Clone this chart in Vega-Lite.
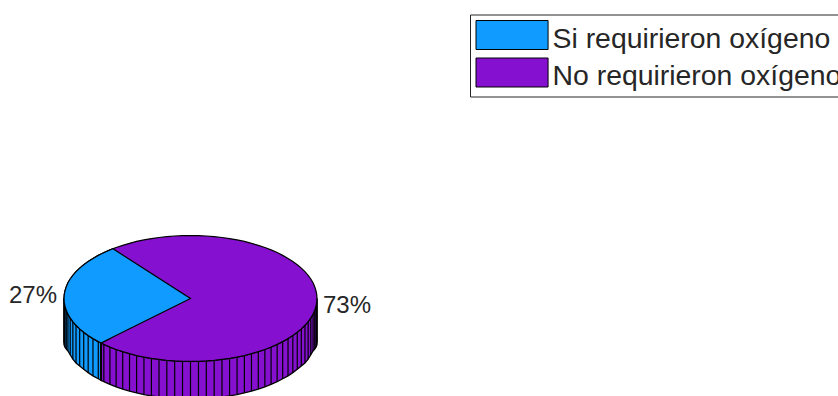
{
  "$schema": "https://vega.github.io/schema/vega-lite/v6.json",
  "width": 838,
  "height": 396,
  "padding": 0,
  "autosize": {"type": "none"},
  "background": "white",
  "config": {"view": {"stroke": null}},
  "datasets": {
    "rim": [
      {"x": -100, "front": 0, "back": 0, "bottom": -35, "group": "Si requirieron oxígeno"},
      {"x": -99.8, "front": -3.1, "back": 3.1, "bottom": -37, "group": "Si requirieron oxígeno"},
      {"x": -99.2, "front": -6.2, "back": 6.2, "bottom": -38.5, "group": "Si requirieron oxígeno"},
      {"x": -98.2, "front": -9.3, "back": 9.3, "bottom": -40, "group": "Si requirieron oxígeno"},
      {"x": -96.9, "front": -12.4, "back": 12.4, "bottom": -41.5, "group": "Si requirieron oxígeno"},
      {"x": -95.1, "front": -15.4, "back": 15.4, "bottom": -44.5, "group": "Si requirieron oxígeno"},
      {"x": -93, "front": -18.3, "back": 18.3, "bottom": -48, "group": "Si requirieron oxígeno"},
      {"x": -90.5, "front": -21.2, "back": 21.2, "bottom": -51, "group": "Si requirieron oxígeno"},
      {"x": -87.6, "front": -24, "back": 24, "bottom": -53.3, "group": "Si requirieron oxígeno"},
      {"x": -84.4, "front": -26.7, "back": 26.7, "bottom": -56, "group": "Si requirieron oxígeno"},
      {"x": -80.9, "front": -29.3, "back": 29.3, "bottom": -58.6, "group": "Si requirieron oxígeno"},
      {"x": -77.1, "front": -31.7, "back": 31.7, "bottom": -61.2, "group": "Si requirieron oxígeno"},
      {"x": -72.9, "front": -34.1, "back": 34.1, "bottom": -63.5, "group": "Si requirieron oxígeno"},
      {"x": -70.7, "front": -35.2, "back": 35.2, "bottom": -64.7, "group": "Si requirieron oxígeno"},
      {"x": -70.7, "front": -35.2, "back": 35.2, "bottom": -64.7, "group": "No requirieron oxígeno"},
      {"x": -68.5, "front": -36.3, "back": 36.3, "bottom": -65.8, "group": "No requirieron oxígeno"},
      {"x": -63.7, "front": -38.4, "back": 38.4, "bottom": -67.9, "group": "No requirieron oxígeno"},
      {"x": -58.8, "front": -40.3, "back": 40.3, "bottom": -69.8, "group": "No requirieron oxígeno"},
      {"x": -53.6, "front": -42, "back": 42, "bottom": -71.6, "group": "No requirieron oxígeno"},
      {"x": -48.2, "front": -43.6, "back": 43.6, "bottom": -73.2, "group": "No requirieron oxígeno"},
      {"x": -42.6, "front": -45.1, "back": 45.1, "bottom": -74.7, "group": "No requirieron oxígeno"},
      {"x": -36.8, "front": -46.3, "back": 46.3, "bottom": -76, "group": "No requirieron oxígeno"},
      {"x": -30.9, "front": -47.4, "back": 47.4, "bottom": -77, "group": "No requirieron oxígeno"},
      {"x": -24.9, "front": -48.2, "back": 48.2, "bottom": -77.9, "group": "No requirieron oxígeno"},
      {"x": -18.7, "front": -48.9, "back": 48.9, "bottom": -78.6, "group": "No requirieron oxígeno"},
      {"x": -12.5, "front": -49.4, "back": 49.4, "bottom": -79.1, "group": "No requirieron oxígeno"},
      {"x": -6.3, "front": -49.7, "back": 49.7, "bottom": -79.4, "group": "No requirieron oxígeno"},
      {"x": 0, "front": -49.8, "back": 49.8, "bottom": -79.5, "group": "No requirieron oxígeno"},
      {"x": 6.3, "front": -49.7, "back": 49.7, "bottom": -79.4, "group": "No requirieron oxígeno"},
      {"x": 12.5, "front": -49.4, "back": 49.4, "bottom": -79.1, "group": "No requirieron oxígeno"},
      {"x": 18.7, "front": -48.9, "back": 48.9, "bottom": -78.6, "group": "No requirieron oxígeno"},
      {"x": 24.9, "front": -48.2, "back": 48.2, "bottom": -77.9, "group": "No requirieron oxígeno"},
      {"x": 30.9, "front": -47.4, "back": 47.4, "bottom": -77, "group": "No requirieron oxígeno"},
      {"x": 36.8, "front": -46.3, "back": 46.3, "bottom": -76, "group": "No requirieron oxígeno"},
      {"x": 42.6, "front": -45.1, "back": 45.1, "bottom": -74.7, "group": "No requirieron oxígeno"},
      {"x": 48.2, "front": -43.6, "back": 43.6, "bottom": -73.2, "group": "No requirieron oxígeno"},
      {"x": 53.6, "front": -42, "back": 42, "bottom": -71.6, "group": "No requirieron oxígeno"},
      {"x": 58.8, "front": -40.3, "back": 40.3, "bottom": -69.8, "group": "No requirieron oxígeno"},
      {"x": 63.7, "front": -38.4, "back": 38.4, "bottom": -67.9, "group": "No requirieron oxígeno"},
      {"x": 68.5, "front": -36.3, "back": 36.3, "bottom": -65.8, "group": "No requirieron oxígeno"},
      {"x": 72.9, "front": -34.1, "back": 34.1, "bottom": -63.5, "group": "No requirieron oxígeno"},
      {"x": 77.1, "front": -31.7, "back": 31.7, "bottom": -61.2, "group": "No requirieron oxígeno"},
      {"x": 80.9, "front": -29.3, "back": 29.3, "bottom": -58.6, "group": "No requirieron oxígeno"},
      {"x": 84.4, "front": -26.7, "back": 26.7, "bottom": -56, "group": "No requirieron oxígeno"},
      {"x": 87.6, "front": -24, "back": 24, "bottom": -53.3, "group": "No requirieron oxígeno"},
      {"x": 90.5, "front": -21.2, "back": 21.2, "bottom": -51, "group": "No requirieron oxígeno"},
      {"x": 93, "front": -18.3, "back": 18.3, "bottom": -48, "group": "No requirieron oxígeno"},
      {"x": 95.1, "front": -15.4, "back": 15.4, "bottom": -44.5, "group": "No requirieron oxígeno"},
      {"x": 96.9, "front": -12.4, "back": 12.4, "bottom": -41.5, "group": "No requirieron oxígeno"},
      {"x": 98.2, "front": -9.3, "back": 9.3, "bottom": -40, "group": "No requirieron oxígeno"},
      {"x": 99.2, "front": -6.2, "back": 6.2, "bottom": -38.5, "group": "No requirieron oxígeno"},
      {"x": 99.8, "front": -3.1, "back": 3.1, "bottom": -37, "group": "No requirieron oxígeno"},
      {"x": 100, "front": 0, "back": 0, "bottom": -35, "group": "No requirieron oxígeno"}
    ],
    "sector": [
      {"x": -100, "front": 0, "back": 0},
      {"x": -99.8, "front": -3.1, "back": 3.1},
      {"x": -99.2, "front": -6.2, "back": 6.2},
      {"x": -98.2, "front": -9.3, "back": 9.3},
      {"x": -96.9, "front": -12.4, "back": 12.4},
      {"x": -95.1, "front": -15.4, "back": 15.4},
      {"x": -93, "front": -18.3, "back": 18.3},
      {"x": -90.5, "front": -21.2, "back": 21.2},
      {"x": -87.6, "front": -24, "back": 24},
      {"x": -84.4, "front": -26.7, "back": 26.7},
      {"x": -80.9, "front": -29.3, "back": 29.3},
      {"x": -77.1, "front": -31.7, "back": 31.7},
      {"x": -72.9, "front": -34.1, "back": 34.1},
      {"x": -70.7, "front": -35.2, "back": 35.2},
      {"x": -66, "front": -32.9, "back": 37.4},
      {"x": -61.3, "front": -30.5, "back": 39.3},
      {"x": 0, "front": 0, "back": 0}
    ],
    "shares": [
      {"label": "27%", "x": -124.5, "y": 2},
      {"label": "73%", "x": 123.7, "y": -6}
    ]
  },
  "layer": [
    {
      "data": {"name": "rim"},
      "mark": {"type": "area", "stroke": "#000000", "strokeWidth": 1.3, "clip": true, "interpolate": "linear"},
      "encoding": {
        "x": {"field": "x", "type": "quantitative", "axis": null, "scale": {"domain": [-150.6, 511.9], "nice": false, "zero": false}},
        "y": {"field": "front", "type": "quantitative", "axis": null, "stack": null, "scale": {"domain": [-77.1, 236], "nice": false, "zero": false}},
        "y2": {"field": "bottom"},
        "fill": {
          "field": "group",
          "type": "nominal",
          "scale": {"domain": ["Si requirieron oxígeno", "No requirieron oxígeno"], "range": ["#0f9bff", "#8510d0"]},
          "legend": {
            "title": null,
            "orient": "none",
            "legendX": 470,
            "legendY": 14.5,
            "padding": 5.5,
            "strokeColor": "#262626",
            "fillColor": "#ffffff",
            "symbolType": "M-1,-1H3.97V1H-1Z",
            "symbolSize": 841,
            "symbolStrokeColor": "#000000",
            "symbolStrokeWidth": 1,
            "rowPadding": 2.5,
            "labelOffset": 47,
            "labelFont": "Liberation Sans",
            "labelFontSize": 28.4,
            "labelColor": "#262626",
            "labelLimit": 400,
            "encoding": {"labels": {"dy": {"value": 3.5}}}
          }
        }
      }
    },
    {
      "data": {"name": "rim"},
      "mark": {"type": "rule", "stroke": "#000000", "strokeWidth": 1.2, "clip": true},
      "encoding": {
        "x": {"field": "x", "type": "quantitative"},
        "y": {"field": "front", "type": "quantitative"},
        "y2": {"field": "bottom"}
      }
    },
    {
      "data": {"name": "rim"},
      "mark": {"type": "area", "stroke": "#000000", "strokeWidth": 1.2, "clip": true},
      "encoding": {
        "x": {"field": "x", "type": "quantitative"},
        "y": {"field": "back", "type": "quantitative", "stack": null},
        "y2": {"field": "front"},
        "fill": {"datum": "No requirieron oxígeno"}
      }
    },
    {
      "data": {"name": "sector"},
      "mark": {"type": "area", "stroke": "#000000", "strokeWidth": 1.2, "clip": true},
      "encoding": {
        "x": {"field": "x", "type": "quantitative"},
        "y": {"field": "back", "type": "quantitative", "stack": null},
        "y2": {"field": "front"},
        "fill": {"datum": "Si requirieron oxígeno"}
      }
    },
    {
      "data": {"name": "shares"},
      "mark": {"type": "text", "font": "Liberation Sans", "fontSize": 24, "color": "#262626", "align": "center", "baseline": "middle"},
      "encoding": {
        "x": {"field": "x", "type": "quantitative"},
        "y": {"field": "y", "type": "quantitative"},
        "text": {"field": "label"}
      }
    }
  ]
}
